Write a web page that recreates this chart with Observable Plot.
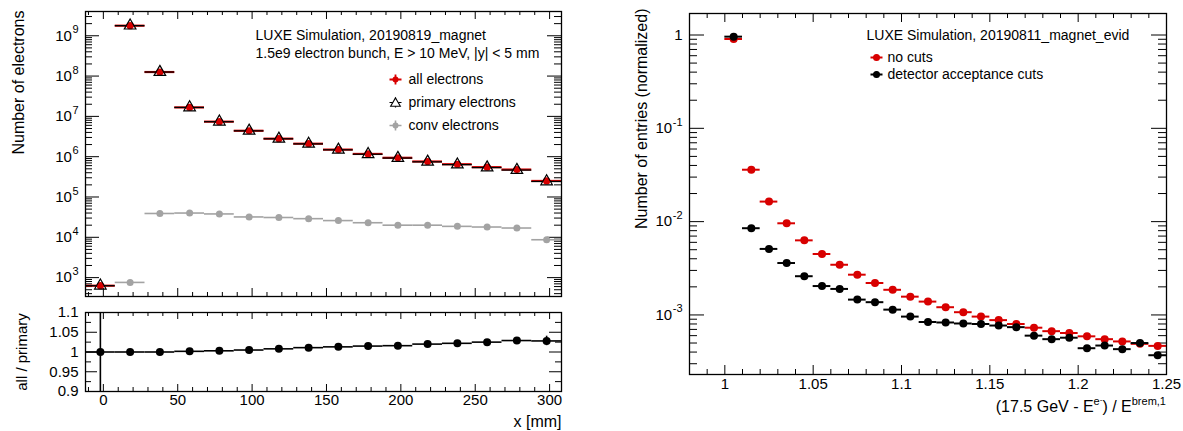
<!DOCTYPE html>
<html>
<head>
<meta charset="utf-8">
<script src="https://cdn.jsdelivr.net/npm/d3@7"></script>
<script src="https://cdn.jsdelivr.net/npm/@observablehq/plot@0.6"></script>
<style>
  html, body { margin: 0; padding: 0; background: #fff; }
  #root { position: relative; width: 1183px; height: 431px; overflow: hidden; font-family: "Liberation Sans", Arial, Helvetica, sans-serif; }
  .panel { position: absolute; }
  .panel svg { display: block; max-width: none !important; }
  #xtitleR { position: absolute; right: 17px; top: 398px; font-size: 16px; line-height: 18px; white-space: nowrap; color: #000; }
  #xtitleR sup { font-size: 11px; vertical-align: 0; position: relative; top: -7px; line-height: 0; }
</style>
</head>
<body>
<div id="root">
  <div class="panel" id="pTop" style="left:0;top:0;width:580px;height:300px"></div>
  <div class="panel" id="pRatio" style="left:0;top:300px;width:580px;height:131px"></div>
  <div class="panel" id="pRight" style="left:600px;top:0;width:583px;height:431px"></div>
  <div id="xtitleR">(17.5 GeV - E<sup>e<sup style="font-size:8px;top:-3px">-</sup></sup>) / E<sup>brem,1</sup></div>
</div>
<script>
// ---------------- DATA: left panel (x distribution) ----------------
const binCenters = [-2, 18, 38, 58, 78, 98, 118, 138, 158, 178, 198, 218, 238, 258, 278, 298];
const binHalfWidth = 10;
const allElectrons = [630, 1.78e9, 1.26e8, 1.67e7, 7.4e6, 4.4e6, 2.8e6, 2.1e6, 1.5e6, 1.17e6, 9.4e5, 7.6e5, 6.5e5, 5.5e5, 4.8e5, 2.5e5];
const primaryElectrons = [630, 1.78e9, 1.26e8, 1.667e7, 7.38e6, 4.38e6, 2.78e6, 2.08e6, 1.48e6, 1.15e6, 9.25e5, 7.45e5, 6.36e5, 5.37e5, 4.66e5, 2.43e5];
const convElectrons = [null, 760, 39000, 40000, 38000, 32000, 31000, 29000, 26000, 23000, 20000, 20000, 18700, 18000, 17000, 8700];
const ratioAllPrimary = [1.0, 1.0, 1.0, 1.0017, 1.003, 1.005, 1.008, 1.011, 1.013, 1.015, 1.016, 1.02, 1.022, 1.025, 1.029, 1.028];
const ratioError = [0.5, 0.0005, 0.0005, 0.001, 0.001, 0.001, 0.0015, 0.002, 0.002, 0.002, 0.003, 0.003, 0.004, 0.005, 0.008, 0.012];

const leftYTicks = [1e3, 1e4, 1e5, 1e6, 1e7, 1e8, 1e9];
const leftYTickBase = ["10", "10", "10", "10", "10", "10", "10"];
const leftYTickExp = ["3", "4", "5", "6", "7", "8", "9"];
const leftXTicks = [0, 50, 100, 150, 200, 250, 300];
const leftXTickLabels = ["0", "50", "100", "150", "200", "250", "300"];
const ratioYTicks = [0.9, 0.95, 1, 1.05, 1.1];
const ratioYTickLabels = ["0.9", "0.95", "1", "1.05", "1.1"];
const ratioYMinor = [0.925, 0.975, 1.025, 1.075];

// ---------------- DATA: right panel (energy ratio) ----------------
const energyBinCenters = [1.005, 1.015, 1.025, 1.035, 1.045, 1.055, 1.065, 1.075, 1.085, 1.095, 1.105, 1.115, 1.125, 1.135, 1.145, 1.155, 1.165, 1.175, 1.185, 1.195, 1.205, 1.215, 1.225, 1.235, 1.245];
const energyHalfWidth = 0.005;
const noCuts = [0.906, 0.036, 0.0164, 0.0096, 0.0063, 0.0045, 0.00345, 0.0027, 0.0022, 0.00186, 0.00157, 0.00139, 0.00121, 0.00107, 0.00096, 0.00088, 0.0008, 0.00073, 0.00067, 0.00064, 0.00059, 0.00055, 0.00052, 0.00049, 0.000466];
const acceptanceCuts = [0.96, 0.0085, 0.0051, 0.0036, 0.0026, 0.00204, 0.0019, 0.00146, 0.00137, 0.00114, 0.00096, 0.00084, 0.00083, 0.00081, 0.0008, 0.00077, 0.00074, 0.0006, 0.00055, 0.00057, 0.00044, 0.00047, 0.00043, 0.0005, 0.00037];
const rightYTicks = [1e-3, 1e-2, 1e-1, 1];
const rightYTickBase = ["10", "10", "10", "1"];
const rightYTickExp = ["-3", "-2", "-1", ""];
const rightXTicks = [1, 1.05, 1.1, 1.15, 1.2, 1.25];
const rightXTickLabels = ["1", "1.05", "1.1", "1.15", "1.2", "1.25"];

// ---------------- styling ----------------
const RED = "#d80000", GRAY = "#a3a3a3", BLACK = "#000";
const FONT = '"Liberation Sans", Arial, Helvetica, sans-serif';
const LABEL_SIZE = 15, EXP_SIZE = 11;

const measureCtx = document.createElement("canvas").getContext("2d");
function textWidth(s, size) { measureCtx.font = `${size}px ${FONT}`; return measureCtx.measureText(s).width; }

function logMinor(lo, hi, eMin, eMax) {
  const out = [];
  for (let e = eMin; e <= eMax; e++) for (let m = 2; m <= 9; m++) {
    const v = m * Math.pow(10, e);
    if (v > lo && v < hi) out.push(v);
  }
  return out;
}
function linMinor(lo, hi, step, majors) {
  const out = [];
  for (let k = Math.ceil(lo / step - 1e-9); k * step <= hi + 1e-9; k++) {
    const v = +(k * step).toFixed(6);
    if (!majors.some(m => Math.abs(m - v) < 1e-9)) out.push(v);
  }
  return out;
}
function frameTicks(W, H, xMaj, xMin, yMaj, yMin, xL, yL) {
  return [
    Plot.tickY(yMaj, {y: d => d, insetRight: W - yL[0], stroke: BLACK}),
    Plot.tickY(yMaj, {y: d => d, insetLeft: W - yL[0], stroke: BLACK}),
    Plot.tickY(yMin, {y: d => d, insetRight: W - yL[1], stroke: BLACK}),
    Plot.tickY(yMin, {y: d => d, insetLeft: W - yL[1], stroke: BLACK}),
    Plot.tickX(xMaj, {x: d => d, insetTop: H - xL[0], stroke: BLACK}),
    Plot.tickX(xMaj, {x: d => d, insetBottom: H - xL[0], stroke: BLACK}),
    Plot.tickX(xMin, {x: d => d, insetTop: H - xL[1], stroke: BLACK}),
    Plot.tickX(xMin, {x: d => d, insetBottom: H - xL[1], stroke: BLACK})
  ];
}
// power-of-ten tick labels: base + raised exponent, right-aligned at the frame
function powerLabels(values, bases, exps, pad) {
  const marks = [];
  values.forEach((v, i) => {
    const ew = exps[i] ? textWidth(exps[i], EXP_SIZE) + 0.5 : 0;
    marks.push(Plot.text([v], {y: d => d, text: () => bases[i], frameAnchor: "left", textAnchor: "end", lineAnchor: "middle", dx: -pad - ew, fontSize: LABEL_SIZE}));
    if (exps[i]) marks.push(Plot.text([v], {y: d => d, text: () => exps[i], frameAnchor: "left", textAnchor: "end", lineAnchor: "middle", dx: -pad, dy: -6, fontSize: EXP_SIZE}));
  });
  return marks;
}
const crossSym = (h, v) => ({draw(ctx) { ctx.moveTo(-h, 0); ctx.lineTo(h, 0); ctx.moveTo(0, -v); ctx.lineTo(0, v); }});
const note = (s, dx, dy, extra = {}) => Plot.text([s], {frameAnchor: "top-left", textAnchor: "start", lineAnchor: "middle", dx, dy, fontSize: 14, ...extra});

// ---------------- TOP LEFT ----------------
{
  const width = 580, height = 300, mL = 85, mR = 19, mT = 11, mB = 4;
  const W = width - mL - mR, H = height - mT - mB;
  const xDomain = [-12, 308], yDomain = [340, 4e9];
  const rows = binCenters.map((x, i) => ({x, all: allElectrons[i], prim: primaryElectrons[i], conv: convElectrons[i]}));
  const convRows = rows.filter(d => d.conv != null);
  const plot = Plot.plot({
    width, height, marginLeft: mL, marginRight: mR, marginTop: mT, marginBottom: mB,
    style: {fontFamily: FONT, fontSize: "15px", background: "white", color: "black"},
    x: {domain: xDomain, axis: null},
    y: {type: "log", domain: yDomain, axis: null},
    marks: [
      ...frameTicks(W, H, leftXTicks, linMinor(-10, 300, 10, leftXTicks), leftYTicks, logMinor(yDomain[0], yDomain[1], 2, 9), [8, 4], [14, 7]),
      // conv electrons
      Plot.ruleY(convRows, {x1: d => d.x - binHalfWidth, x2: d => d.x + binHalfWidth, y: "conv", stroke: GRAY, strokeWidth: 1.6}),
      Plot.dot(convRows, {x: "x", y: "conv", r: 3.5, fill: GRAY}),
      // all electrons
      Plot.ruleY(rows, {x1: d => d.x - binHalfWidth, x2: d => d.x + binHalfWidth, y: "all", stroke: RED, strokeWidth: 2.2}),
      // primary electrons
      Plot.ruleY(rows, {x1: d => d.x - binHalfWidth, x2: d => d.x + binHalfWidth, y: "prim", stroke: BLACK, strokeWidth: 1.3}),
      Plot.dot(rows, {x: "x", y: "all", r: 3.6, fill: RED}),
      Plot.dot(rows, {x: "x", y: "prim", r: 4.3, symbol: "triangle", stroke: BLACK, fill: "none", strokeWidth: 1.2}),
      Plot.frame({stroke: BLACK, strokeWidth: 1.3}),
      // tick labels
      ...powerLabels(leftYTicks, leftYTickBase, leftYTickExp, 7),
      // axis title
      Plot.text(["Number of electrons"], {frameAnchor: "top-left", rotate: -90, textAnchor: "end", lineAnchor: "middle", dx: -67, dy: -1, fontSize: 16}),
      // annotations
      note("LUXE Simulation, 20190819_magnet", 170, 24),
      note("1.5e9 electron bunch, E > 10 MeV, |y| < 5 mm", 170, 42),
      // legend
      Plot.dot([0], {frameAnchor: "top-left", dx: 310, dy: 68, symbol: crossSym(6, 5), stroke: RED, strokeWidth: 1.8, r: 4}),
      Plot.dot([0], {frameAnchor: "top-left", dx: 310, dy: 68, r: 3, fill: RED}),
      Plot.dot([0], {frameAnchor: "top-left", dx: 310, dy: 91, symbol: crossSym(6, 5), stroke: BLACK, strokeWidth: 1.2, r: 4}),
      Plot.dot([0], {frameAnchor: "top-left", dx: 310, dy: 92, r: 3.6, symbol: "triangle", stroke: BLACK, fill: "white", strokeWidth: 1.1}),
      Plot.dot([0], {frameAnchor: "top-left", dx: 310, dy: 114, symbol: crossSym(6, 5), stroke: GRAY, strokeWidth: 1.6, r: 4}),
      Plot.dot([0], {frameAnchor: "top-left", dx: 310, dy: 114, r: 3, fill: GRAY}),
      note("all electrons", 323, 68),
      note("primary electrons", 323, 91),
      note("conv electrons", 323, 114)
    ]
  });
  document.getElementById("pTop").append(plot);
}

// ---------------- BOTTOM LEFT (ratio) ----------------
{
  const width = 580, height = 131, mL = 85, mR = 19, mT = 12, mB = 40;
  const W = width - mL - mR, H = height - mT - mB;
  const rows = binCenters.map((x, i) => ({x, r: ratioAllPrimary[i], e: ratioError[i]}));
  const plot = Plot.plot({
    width, height, marginLeft: mL, marginRight: mR, marginTop: mT, marginBottom: mB,
    style: {fontFamily: FONT, fontSize: "15px", background: "white", color: "black"},
    x: {domain: [-12, 308], axis: null},
    y: {domain: [0.9, 1.1], axis: null},
    marks: [
      ...frameTicks(W, H, leftXTicks, linMinor(-10, 300, 10, leftXTicks), ratioYTicks, ratioYMinor, [7, 4], [12, 6]),
      Plot.ruleY(rows, {x1: d => d.x - binHalfWidth, x2: d => d.x + binHalfWidth, y: "r", stroke: BLACK, strokeWidth: 1.6}),
      Plot.ruleX(rows, {x: "x", y1: d => d.r - d.e, y2: d => d.r + d.e, stroke: BLACK, strokeWidth: 1.6, clip: true}),
      Plot.dot(rows, {x: "x", y: "r", r: 4, fill: BLACK}),
      Plot.frame({stroke: BLACK, strokeWidth: 1.3}),
      Plot.text(ratioYTicks, {y: d => d, text: (d, i) => ratioYTickLabels[i], frameAnchor: "left", textAnchor: "end", lineAnchor: "middle", dx: -7, fontSize: 15}),
      Plot.text(leftXTicks, {x: d => d, text: (d, i) => leftXTickLabels[i], frameAnchor: "bottom", lineAnchor: "top", dy: 3, fontSize: 15}),
      Plot.text(["all / primary"], {frameAnchor: "left", rotate: -90, textAnchor: "middle", lineAnchor: "middle", dx: -63, fontSize: 15}),
      Plot.text(["x [mm]"], {frameAnchor: "bottom-right", textAnchor: "end", lineAnchor: "middle", dy: 30, fontSize: 16})
    ]
  });
  document.getElementById("pRatio").append(plot);
}

// ---------------- RIGHT ----------------
{
  const width = 583, height = 431, mL = 89, mR = 17, mT = 13, mB = 57;
  const W = width - mL - mR, H = height - mT - mB;
  const yDomain = [2.3e-4, 1.7];
  const rows = energyBinCenters.map((x, i) => ({x, nc: noCuts[i], ac: acceptanceCuts[i]}));
  const plot = Plot.plot({
    width, height, marginLeft: mL, marginRight: mR, marginTop: mT, marginBottom: mB,
    style: {fontFamily: FONT, fontSize: "15px", background: "white", color: "black"},
    x: {domain: [0.98, 1.25], axis: null},
    y: {type: "log", domain: yDomain, axis: null},
    marks: [
      ...frameTicks(W, H, rightXTicks, linMinor(0.98, 1.25, 0.01, rightXTicks), rightYTicks, logMinor(yDomain[0], yDomain[1], -4, 0), [9, 5], [15, 8]),
      Plot.ruleY(rows, {x1: d => d.x - energyHalfWidth, x2: d => d.x + energyHalfWidth, y: "nc", stroke: RED, strokeWidth: 2}),
      Plot.dot(rows, {x: "x", y: "nc", r: 4, fill: RED}),
      Plot.ruleY(rows, {x1: d => d.x - energyHalfWidth, x2: d => d.x + energyHalfWidth, y: "ac", stroke: BLACK, strokeWidth: 2}),
      Plot.dot(rows, {x: "x", y: "ac", r: 4, fill: BLACK}),
      Plot.frame({stroke: BLACK, strokeWidth: 1.3}),
      ...powerLabels(rightYTicks, rightYTickBase, rightYTickExp, 7),
      Plot.text(rightXTicks, {x: d => d, text: (d, i) => rightXTickLabels[i], frameAnchor: "bottom", lineAnchor: "top", dy: 4, fontSize: 15}),
      Plot.text(["Number of entries (normalized)"], {frameAnchor: "top-left", rotate: -90, textAnchor: "end", lineAnchor: "middle", dx: -48, dy: -5, fontSize: 16}),
      note("LUXE Simulation, 20190811_magnet_evid", 177, 22),
      Plot.dot([0], {frameAnchor: "top-left", dx: 187, dy: 44, symbol: crossSym(6, 3), stroke: RED, strokeWidth: 1.8, r: 4}),
      Plot.dot([0], {frameAnchor: "top-left", dx: 187, dy: 44, r: 3.5, fill: RED}),
      Plot.dot([0], {frameAnchor: "top-left", dx: 187, dy: 61, symbol: crossSym(6, 3), stroke: BLACK, strokeWidth: 1.8, r: 4}),
      Plot.dot([0], {frameAnchor: "top-left", dx: 187, dy: 61, r: 3.5, fill: BLACK}),
      note("no cuts", 198, 44),
      note("detector acceptance cuts", 198, 61)
    ]
  });
  document.getElementById("pRight").append(plot);
}
</script>
</body>
</html>
